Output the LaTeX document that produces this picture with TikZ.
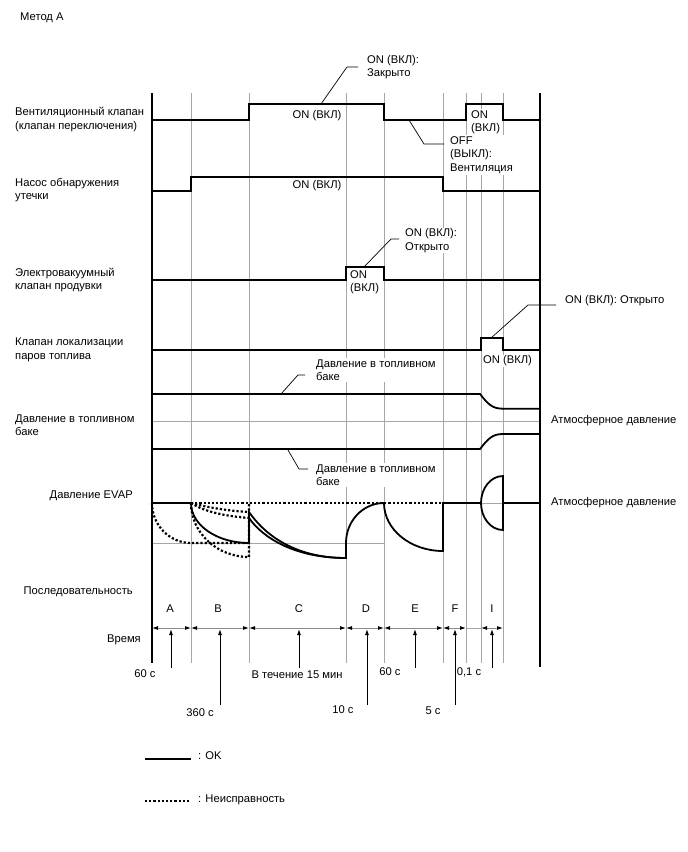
\documentclass[tikz,border=0pt]{standalone}
\usepackage{fontspec}
\setmainfont{Liberation Sans}
\usetikzlibrary{arrows.meta}
\tikzset{
  txt/.style       = {font=\fontsize{11.2}{13.5}\selectfont, inner sep=1pt, align=left},
  note/.style      = {txt, fill=white},
  gridline/.style  = {draw=black!35, line width=0.9pt},
  frameline/.style = {line width=1.8pt},
  sig/.style       = {line width=1.8pt},
  fault/.style     = {line width=2.2pt, dash pattern=on 2.2pt off 2pt},
  leader/.style    = {line width=0.7pt},
  seg/.style       = {draw=black!45, line width=0.9pt,
                      {Latex[length=6pt,width=4pt,color=black]}-{Latex[length=6pt,width=4pt,color=black]}},
  tarrow/.style    = {line width=0.9pt, -{Latex[length=6pt,width=4pt]}}
}
\begin{document}
\begin{tikzpicture}[x=1pt, y=-1pt]
\useasboundingbox (0,0) rectangle (688,852);

% Title
\node[txt, anchor=west] (method) at (19,18) {Метод А};

% Grid and frame
\foreach \x in {191, 249, 346, 384, 443, 466, 481, 503}
  \draw[gridline] (\x,93) -- (\x,663);
\draw[gridline] (152,421) -- (540,421);
\draw[gridline] (152,543) -- (384,543);
\draw[gridline] (481,503) -- (503,503);
\draw[frameline] (152,93) -- (152,663);
\draw[frameline] (540,93) -- (540,667);

% Row labels
\node[txt, anchor=west] (ventlbl) at (14,119.5) {Вентиляционный клапан\\(клапан переключения)};
\node[txt, anchor=west] (pumplbl) at (14,190) {Насос обнаружения\\утечки};
\node[txt, anchor=west] (purgelbl) at (14,280) {Электровакуумный\\клапан продувки};
\node[txt, anchor=west] (canlbl) at (14,350) {Клапан локализации\\паров топлива};
\node[txt, anchor=west] (tanklbl) at (14,425) {Давление в топливном\\баке};
\node[txt, anchor=east] (evaplbl) at (134,496) {Давление EVAP};
\node[txt, anchor=east] (seqlbl) at (134,592) {Последовательность};
\node[txt, anchor=east] (timelbl) at (142,640) {Время};
\node[txt, anchor=west] (atmA) at (550,421) {Атмосферное давление};
\node[txt, anchor=west] (atmB) at (550,503) {Атмосферное давление};

% Notes
\node[note] (venton) at (317,116) {ON (ВКЛ)};
\node[note, anchor=west] (venton2) at (470,122) {ON\\(ВКЛ)};
\node[note, anchor=west] (ventnote) at (366,67) {ON (ВКЛ):\\Закрыто};
\node[note, anchor=west] (offnote) at (449,155) {OFF\\(ВЫКЛ):\\Вентиляция};
\node[note] (pumpon) at (317,186) {ON (ВКЛ)};
\node[note, anchor=west] (purgeon) at (349,282) {ON\\(ВКЛ)};
\node[note, anchor=west] (purgenote) at (404,240.5) {ON (ВКЛ):\\Открыто};
\node[note, anchor=west] (canon) at (482,361) {ON (ВКЛ)};
\node[note, anchor=west] (cannote) at (564,301) {ON (ВКЛ): Открыто};
\node[note, anchor=west] (tanknoteA) at (315,370) {Давление в топливном\\баке};
\node[note, anchor=west] (tanknoteB) at (315,475) {Давление в топливном\\баке};

% Leaders
\draw[leader] (321,104) -- (347,67) -- ([xshift=-8pt]ventnote.west);
\draw[leader] (409,120) -- (424,144) -- ([xshift=-5pt,yshift=11pt]offnote.west);
\draw[leader] (364,267) -- (391,239) -- ([xshift=-5pt,yshift=1.5pt]purgenote.west);
\draw[leader] (491,338) -- (528,305) -- ([xshift=-8pt,yshift=-4pt]cannote.west);
\draw[leader] (281,394) -- (298,375) -- ([xshift=-10pt,yshift=-5pt]tanknoteA.west);
\draw[leader] (288,450) -- (299,469) -- ([xshift=-7pt,yshift=6pt]tanknoteB.west);

% Valve and pump signals
\draw[sig] (152,120) -- (249,120) -- (249,104) -- (384,104) -- (384,120) -- (466,120)
  -- (466,104) -- (503,104) -- (503,120) -- (540,120);
\draw[sig] (152,191) -- (191,191) -- (191,177) -- (443,177) -- (443,191) -- (540,191);
\draw[sig] (152,280) -- (346,280) -- (346,267) -- (384,267) -- (384,280) -- (540,280);
\draw[sig] (152,350) -- (481,350) -- (481,338) -- (503,338) -- (503,350) -- (540,350);

% Fuel tank pressure
\draw[sig] (152,394) -- (480,394) .. controls (488,404) and (492,408.7) .. (503,408.7) -- (540,408.7);
\draw[sig] (152,449) -- (480,449) .. controls (488,439) and (492,434) .. (503,434) -- (540,434);

% EVAP pressure: malfunction
\draw[fault] (191,503) -- (443,503);
\draw[fault] (152,503) .. controls (152,525.1) and (169.5,543) .. (191,543) -- (249,543);
\draw[fault] (191,503) .. controls (191,532.8) and (217,557) .. (249,557) -- (249,503);
\draw[fault] (191,503) .. controls (210,508) and (230,511) .. (249,512);
\draw[fault] (191,503) .. controls (205,512) and (225,516) .. (249,518);

% EVAP pressure: OK
\draw[sig] (152,503) -- (191,503) .. controls (191,525.1) and (217,543) .. (249,543) -- (249,512)
  .. controls (265,535) and (295,558) .. (346,558) -- (346,543)
  .. controls (346,520.9) and (363,503) .. (384,503)
  .. controls (384,529.5) and (410.4,551) .. (443,551) -- (443,503) -- (481,503);
\draw[sig] (249,518) .. controls (263,538) and (295,558) .. (346,558);
\draw[sig] (503,476) .. controls (490.8,476) and (481,488.1) .. (481,503)
  .. controls (481,517.9) and (490.8,530) .. (503,530) -- cycle;
\draw[sig] (503,503) -- (540,503);

% Sequence and time
\foreach \x/\l in {170/A, 218/B, 299/C, 366/D, 415/E, 455/F, 492/I}
  \node[txt] (seq\l) at (\x,609) {\l};
\foreach \a/\b in {152/191, 191/249, 249/346, 346/384, 384/443, 443/466, 481/503}
  \draw[seg] (\a,628) -- (\b,628);
\draw[gridline] (466,628) -- (481,628);
\foreach \x/\yb in {171/668, 220/705, 299/668, 367/705, 415/668, 455/705, 492/668}
  \draw[tarrow] (\x,\yb) -- (\x,629);
\node[txt] (tA) at (145,674) {60 с};
\node[txt] (tB) at (200,713) {360 с};
\node[txt] (tC) at (297,675) {В течение 15 мин};
\node[txt] (tD) at (343,710) {10 с};
\node[txt] (tE) at (390,672) {60 с};
\node[txt] (tF) at (433,711) {5 с};
\node[txt] (tI) at (469,672) {0,1 с};

% Legend
\draw[sig] (145,759) -- (191,759);
\node[txt, anchor=west] (legok) at (197,756) {: OK};
\draw[fault] (145,801) -- (190,801);
\node[txt, anchor=west] (legfault) at (197,800) {: Неисправность};
\end{tikzpicture}
\end{document}
